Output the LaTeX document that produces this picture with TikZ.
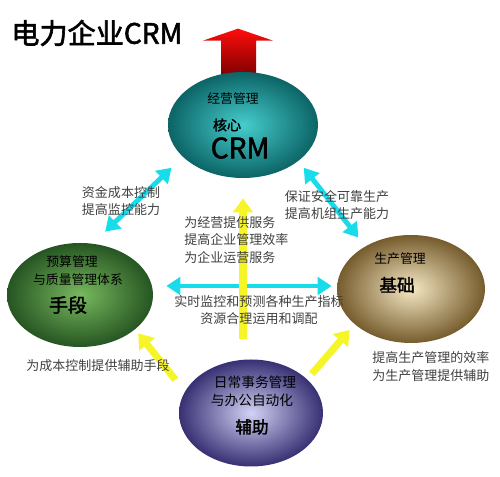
\documentclass[tikz,border=0pt]{standalone}
\usepackage{fontspec}
\setmainfont{Noto Sans CJK SC}[AutoFakeBold=2]
\usetikzlibrary{shapes.geometric, positioning, arrows.meta, backgrounds}

\definecolor{tealin}{RGB}{70,205,205}
\definecolor{tealout}{RGB}{12,100,102}
\definecolor{greenin}{RGB}{120,185,95}
\definecolor{greenout}{RGB}{38,85,34}
\definecolor{tanin}{RGB}{245,232,196}
\definecolor{tanout}{RGB}{118,92,45}
\definecolor{lilacin}{RGB}{210,210,245}
\definecolor{lilacout}{RGB}{55,48,115}
\definecolor{crmcyan}{RGB}{25,220,235}
\definecolor{crmyellow}{RGB}{245,245,40}

\begin{document}
\begin{tikzpicture}[
	ell/.style={ellipse, draw=none, inner sep=0pt},
	intext/.style={font=\fontsize{7.3}{9}\selectfont, text=black, inner sep=0pt},
	inbig/.style={font=\fontsize{10}{12}\selectfont\bfseries, text=black, inner sep=0pt},
	note/.style={font=\fontsize{7.4}{10}\selectfont, text=black!75, align=left, inner sep=0pt},
	both/.style={{Triangle[width=10pt,length=8pt]}-{Triangle[width=10pt,length=8pt]}, draw=crmcyan, line width=2.8pt},
	feed/.style={-{Triangle[width=11pt,length=8pt]}, draw=crmyellow, line width=4pt},
	]
	\useasboundingbox (0,0) rectangle (10,9.54);
	
	\node[anchor=west, inner sep=0pt, font=\fontsize{16}{18}\selectfont\bfseries] (T) at (0.22,8.88) {电力企业CRM};
	
	% the four ellipses
	\node[ell, inner color=tealin, outer color=tealout, minimum width=3cm, minimum height=2.12cm] (A) at (4.86,7.04) {};
	\node[ell, inner color=greenin, outer color=greenout, minimum width=2.92cm, minimum height=2.08cm, below of = A, node distance =3.4cm, xshift=-3.26cm] (L) {};
	\node[ell, inner color=tanin, outer color=tanout, minimum width=2.96cm, minimum height=2.16cm, below of = A, node distance =3.28cm, xshift=3.36cm] (R) {};
	\node[ell, inner color=lilacin, outer color=lilacout, minimum width=2.88cm, minimum height=2.14cm, below of = A, node distance =5.76cm, xshift=0.16cm] (D) {};
	
	\begin{scope}[on background layer]
		\path[top color=red!95!white, bottom color=red!50!black] ([xshift=-0.44cm,yshift=-0.06cm]A.north) -- ++(0,0.68) -- ++(-0.36,0) -- ++(0.70,0.24) -- ++(0.70,-0.24) -- ++(-0.34,0) -- ++(0,-0.68) -- cycle;
	\end{scope}
	
	% texts in the ellipses
	\node[intext, above of = A, node distance =0.52cm, xshift=-0.2cm] (A1) {经营管理};
	\node[inbig, font=\fontsize{8}{10}\selectfont\bfseries, left of = A, node distance =0.32cm] (A2) {核心};
	\node[inbig, font=\fontsize{16}{18}\selectfont\bfseries, below of = A, node distance =0.46cm, xshift=-0.06cm] (A3) {CRM};
	\node[intext, above of = L, node distance =0.66cm, xshift=-0.16cm] (L1) {预算管理};
	\node[intext, above of = L, node distance =0.30cm, xshift=-0.04cm] (L2) {与质量管理体系};
	\node[inbig, font=\fontsize{10.8}{12}\selectfont\bfseries, below of = L, node distance =0.20cm, xshift=-0.24cm] (L3) {手段};
	\node[intext, above of = R, node distance =0.60cm, xshift=-0.22cm] (R1) {生产管理};
	\node[inbig, above of = R, node distance =0.08cm, xshift=-0.28cm] (R2) {基础};
	\node[intext, font=\fontsize{7.8}{9}\selectfont, above of = D, node distance =0.62cm, xshift=0.08cm] (D1) {日常事务管理};
	\node[intext, font=\fontsize{7.8}{9}\selectfont, above of = D, node distance =0.26cm, xshift=0.02cm] (D2) {与办公自动化};
	\node[inbig, font=\fontsize{9.4}{11}\selectfont\bfseries, below of = D, node distance =0.28cm, xshift=0.02cm] (D3) {辅助};
	
	\path (L.76) edge[both, shorten <=0.34cm, shorten >=0.31cm] (A.208)
	(A.-33) edge[both, shorten <=0.17cm, shorten >=0.22cm] (R.137)
	([yshift=0.18cm]L.east) edge[both, shorten <=0.26cm, shorten >=0.1cm] ([yshift=0.18cm]L.east -| R.west)
	(A.south |- D.north) edge[feed, shorten <=0.4cm, shorten >=0.4cm] (A.south)
	(D.162) edge[feed, shorten <=0.3cm, shorten >=0.1cm] (L.-32)
	(D.31) edge[feed, shorten <=0.14cm, shorten >=0.15cm] (R.212)
	;
	
	% notes, over the arrows
	\node[note] (N1) at (2.42,5.52) {资金成本控制\\提高监控能力};
	\node[note] (N2) at (6.74,5.44) {保证安全可靠生产\\提高机组生产能力};
	\node[note, anchor=west] (N3) at (3.68,4.74) {为经营提供服务\\提高企业管理效率\\为企业运营服务};
	\node[note, align=center] (N4) at (5.18,3.34) {实时监控和预测各种生产指标\\资源合理运用和调配};
	\node[note] (N5) at (1.96,2.22) {为成本控制提供辅助手段};
	\node[note, anchor=west] (N6) at (7.44,2.21) {提高生产管理的效率\\为生产管理提供辅助};
\end{tikzpicture}
\end{document}
